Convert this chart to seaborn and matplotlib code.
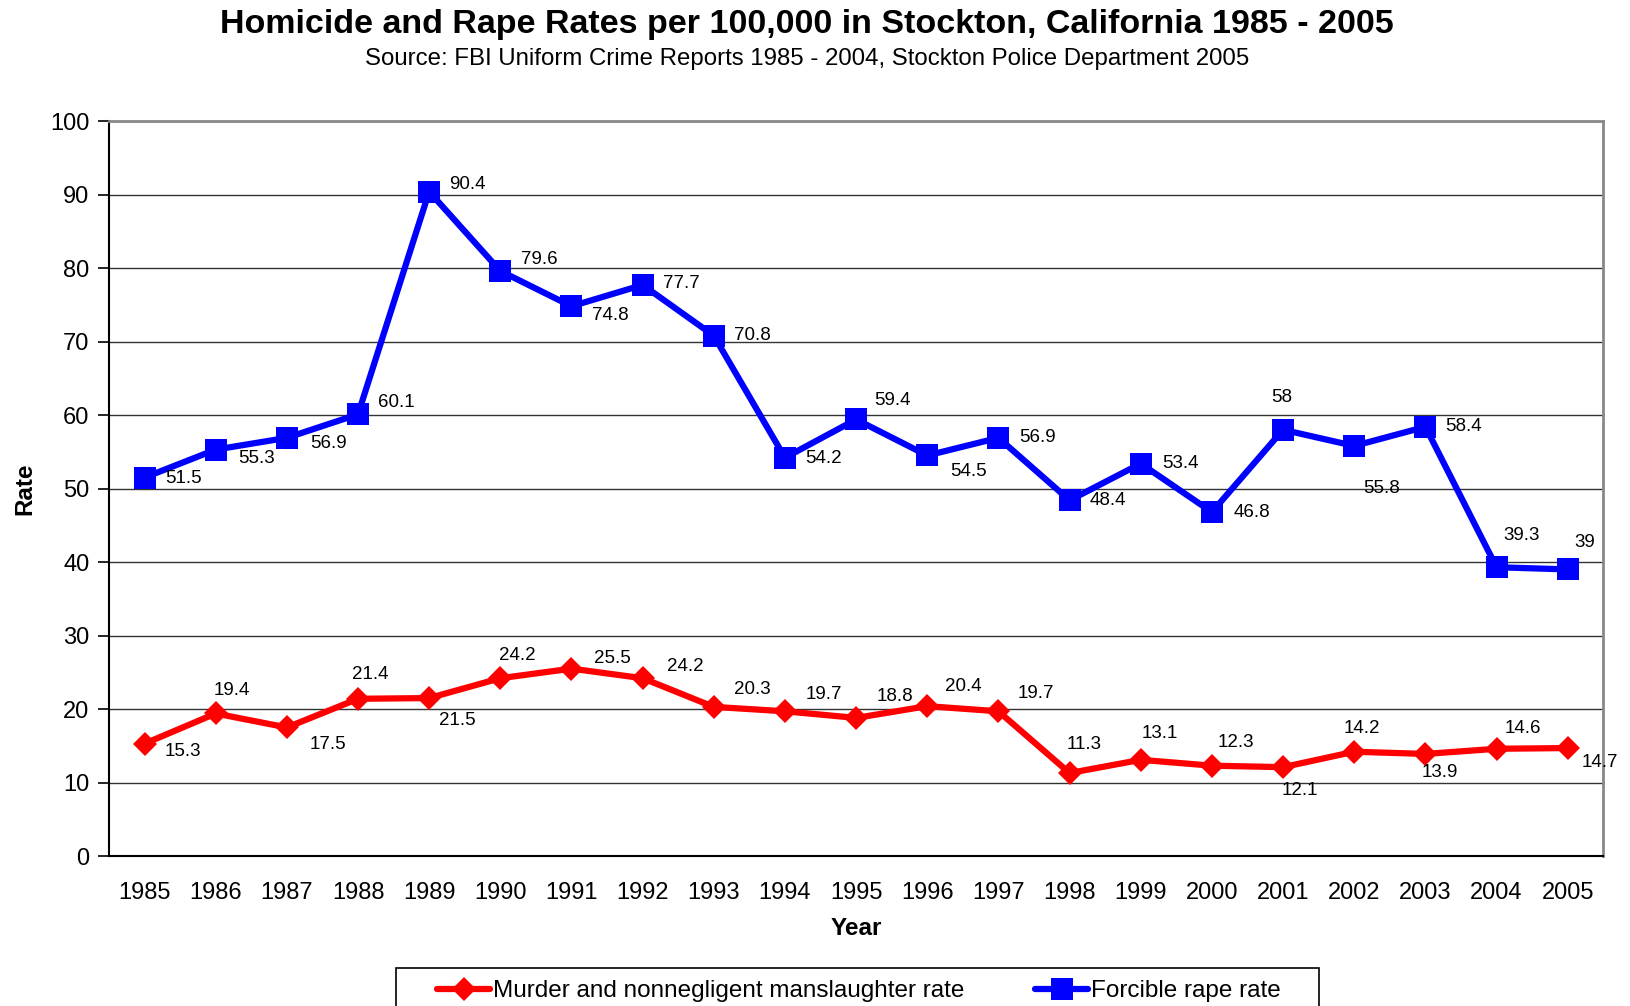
import matplotlib
matplotlib.use("Agg")
import matplotlib.pyplot as plt
from matplotlib.patches import Rectangle
import seaborn as sns
import pandas as pd
import numpy as np

years = ["1985", "1986", "1987", "1988", "1989", "1990", "1991", "1992", "1993", "1994", "1995",
         "1996", "1997", "1998", "1999", "2000", "2001", "2002", "2003", "2004", "2005"]
murder = [15.3, 19.4, 17.5, 21.4, 21.5, 24.2, 25.5, 24.2, 20.3, 19.7, 18.8,
          20.4, 19.7, 11.3, 13.1, 12.3, 12.1, 14.2, 13.9, 14.6, 14.7]
rape = [51.5, 55.3, 56.9, 60.1, 90.4, 79.6, 74.8, 77.7, 70.8, 54.2, 59.4,
        54.5, 56.9, 48.4, 53.4, 46.8, 58, 55.8, 58.4, 39.3, 39]
murder_labels = ["15.3", "19.4", "17.5", "21.4", "21.5", "24.2", "25.5", "24.2", "20.3", "19.7", "18.8",
                 "20.4", "19.7", "11.3", "13.1", "12.3", "12.1", "14.2", "13.9", "14.6", "14.7"]
rape_labels = ["51.5", "55.3", "56.9", "60.1", "90.4", "79.6", "74.8", "77.7", "70.8", "54.2", "59.4",
               "54.5", "56.9", "48.4", "53.4", "46.8", "58", "55.8", "58.4", "39.3", "39"]
series_names = ["Murder and nonnegligent manslaughter rate", "Forcible rape rate"]

# label offsets (screen px in reference, converted to points below)
rape_off = [(37, 1), (39, 9), (40, 5), (37, -11), (37, -7), (37, -11), (37, 9), (37, -1), (37, 0),
            (37, 1), (35, -18), (40, 15), (38, 0), (37, 0), (38, 0), (38, 0), (-1, -31), (26, 41),
            (37, 0), (24, -30), (16, -26)]
murder_off = [(37, 8), (15, -22), (39, 16), (12, -23), (27, 22), (16, -22), (39, -10), (41, -11),
              (37, -17), (37, -16), (37, -21), (35, -19), (36, -17), (14, -27), (18, -25), (23, -22),
              (16, 22), (7, -22), (14, 18), (25, -19), (31, 14)]

sns.set_style("white")
plt.rcParams['font.family'] = ['Liberation Sans', 'DejaVu Sans']
plt.rcParams['text.color'] = 'black'
plt.rcParams['axes.labelcolor'] = 'black'
plt.rcParams['xtick.color'] = 'black'
plt.rcParams['ytick.color'] = 'black'

fig = plt.figure(figsize=(16.31, 10.06), dpi=100)
ax = fig.add_axes([0.0668, 0.149, 0.9162, 0.7307])

x = np.arange(len(years))
df = pd.DataFrame({"x": x, "murder": murder, "rape": rape})

sns.lineplot(data=df, x="x", y="murder", ax=ax, color="#ff0000", linewidth=4.5,
             marker="D", markersize=12.5, markeredgewidth=0, label=series_names[0], legend=False)
sns.lineplot(data=df, x="x", y="rape", ax=ax, color="#0000ff", linewidth=4.5,
             marker="s", markersize=16, markeredgewidth=0, label=series_names[1], legend=False)

k = 0.75
for xi, v, lab, (dx, dy) in zip(x, rape, rape_labels, rape_off):
    ax.annotate(lab, (xi, v), xytext=(dx * k, -dy * k), textcoords="offset points",
                ha="center", va="center", fontsize=13.5, color="black")
for xi, v, lab, (dx, dy) in zip(x, murder, murder_labels, murder_off):
    ax.annotate(lab, (xi, v), xytext=(dx * k, -dy * k), textcoords="offset points",
                ha="center", va="center", fontsize=13.5, color="black", annotation_clip=False)

ax.set_xlim(-0.5, len(years) - 0.5)
ax.set_ylim(0, 100)
ax.set_yticks(np.arange(0, 101, 10))
ax.set_xticks(x)
ax.set_xticklabels(years)
ax.set_xticks(np.arange(-0.5, len(years), 1), minor=True)
ax.tick_params(axis="x", which="major", length=0, labelsize=17, pad=19)
ax.tick_params(axis="x", which="minor", length=8, width=1.2, color="black", direction="out")
ax.tick_params(axis="y", which="major", length=8, width=1.2, color="black", direction="out",
               labelsize=17, left=True, pad=6)
ax.yaxis.grid(True, color="#333333", linewidth=1)
ax.set_axisbelow(True)
ax.set_xlabel("")
ax.set_ylabel("")
for s in ["left", "bottom"]:
    ax.spines[s].set_color("black")
    ax.spines[s].set_linewidth(1.5)
for s in ["top", "right"]:
    ax.spines[s].set_color("#888888")
    ax.spines[s].set_linewidth(2)

fig.text(0.495, 0.976, "Homicide and Rape Rates per 100,000 in Stockton, California 1985 - 2005",
         ha="center", va="center", fontsize=24.5, fontweight="bold")
fig.text(0.495, 0.941, "Source: FBI Uniform Crime Reports 1985 - 2004, Stockton Police Department 2005",
         ha="center", va="center", fontsize=17.3)
fig.text(0.015, 0.514, "Rate", rotation=90, ha="center", va="center", fontsize=17.5, fontweight="bold")
fig.text(0.525, 0.077, "Year", ha="center", va="center", fontsize=17.5, fontweight="bold")

# legend box
fig.patches.append(Rectangle((0.2428, -0.02), 0.5659, 0.0578, transform=fig.transFigure,
                             facecolor="white", edgecolor="black", linewidth=1.2, zorder=5))
handles, labels = ax.get_legend_handles_labels()
leg = fig.legend(handles, labels, loc="upper center", bbox_to_anchor=(0.5265, 0.034), ncol=2,
                 frameon=False, fontsize=17.5, handlelength=2.2, columnspacing=2.9,
                 borderpad=0.35, handletextpad=0.1, borderaxespad=0)
leg.set_zorder(6)

fig.savefig("out.png", dpi=100)
